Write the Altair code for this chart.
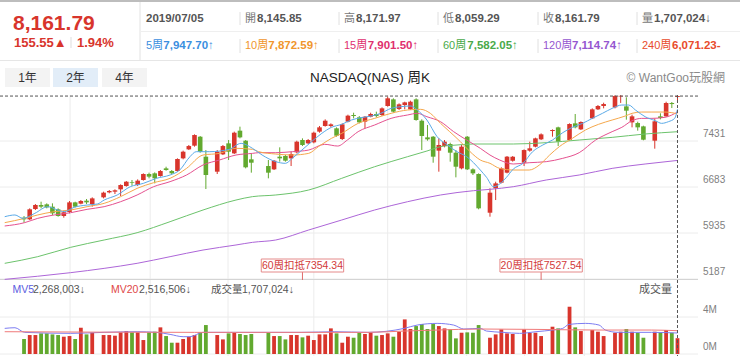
import altair as alt
import pandas as pd

FONT = "Liberation Sans, Noto Sans CJK TC, sans-serif"
RED = "#d8352c"
GREEN = "#62a92f"

# ---------------- data ----------------
week = [0, 1, 2, 3, 4, 5, 6, 7, 8, 9, 10, 11, 12,
        14, 15, 16, 17, 18, 19, 20, 21, 22, 23, 24, 25, 26, 27, 28, 29, 30, 31, 32,
        34, 35, 36, 37, 38, 39, 40,
        43, 44, 45, 46, 47, 48, 49, 50, 51, 52, 53, 54, 55, 56, 57, 58, 59, 60, 61,
        62, 63, 64, 65, 66, 67, 68, 69, 70, 71, 72, 73, 74, 75, 76, 77, 78, 79, 80,
        82, 83, 84, 85, 86,
        88, 89, 90, 91,
        93, 94,
        96, 97, 98,
        100, 101, 102,
        104, 105, 106, 107, 108, 109,
        111, 112, 113, 114, 115]

open_p = [6184, 6157, 6325, 6390, 6401, 6363, 6320, 6211, 6276, 6433, 6412, 6461, 6406,
          6515, 6596, 6607, 6645, 6699, 6764, 6715, 6797, 6894, 6905, 6862, 6986, 6943, 6943, 7149, 7295, 7355, 7501, 7176,
          6932, 7214, 7393, 7230, 7599, 7436, 7133,
          7024, 6970, 7176, 7187, 7149, 7246, 7447, 7393, 7409, 7583, 7675, 7675, 7637, 7463, 7745, 7854, 7816, 7745, 7826,
          7870, 7854, 8000, 8108, 7951, 8016, 7946, 8108, 7761, 7490, 7501, 7274, 7349, 7382, 7241, 6986, 7501, 6970, 6894,
          6265, 6661, 6753, 6916, 7111,
          7078, 7274, 7339, 7458,
          7593, 7653,
          7447, 7718, 7620,
          7799, 7946, 8000,
          7978, 8155, 7994, 7734, 7723, 7669,
          7436, 7832, 7832, 8049, 8145.85]

high_p = [6211, 6336, 6406, 6444, 6417, 6417, 6336, 6298, 6455, 6444, 6471, 6488, 6515,
          6607, 6634, 6645, 6726, 6780, 6797, 6807, 6905, 6916, 6921, 6959, 7013, 6959, 7149, 7274, 7366, 7539, 7512, 7284,
          7284, 7366, 7447, 7583, 7664, 7447, 7230,
          7122, 7122, 7328, 7203, 7257, 7436, 7474, 7463, 7583, 7675, 7783, 7718, 7653, 7718, 7859, 7891, 7837, 7837, 7891,
          7908, 7978, 8152, 8125, 8043, 8070, 8087, 8125, 7783, 7691, 7512, 7474, 7447, 7404, 7284, 7366, 7512, 6986, 6905,
          6661, 6769, 7003, 7187, 7187,
          7295, 7420, 7485, 7555,
          7620, 7664,
          7718, 7870, 7751,
          7962, 8016, 8054,
          8175, 8176, 8141, 7859, 7745, 7680,
          7794, 7881, 8070, 8065, 8171.97]

low_p = [6103, 6146, 6309, 6336, 6336, 6228, 6200, 6184, 6255, 6352, 6401, 6406, 6363,
         6498, 6580, 6569, 6536, 6688, 6704, 6699, 6786, 6824, 6742, 6851, 6948, 6894, 6932, 7133, 7284, 7339, 7241, 6650,
         6894, 7203, 7122, 7219, 7474, 6986, 6916,
         6824, 6959, 7095, 7095, 7024, 7230, 7349, 7382, 7393, 7566, 7664, 7653, 7501, 7447, 7734, 7799, 7718, 7637, 7816,
         7816, 7837, 7989, 7891, 7935, 7946, 7935, 7761, 7284, 7436, 7078, 6932, 7328, 7095, 6840, 6970, 6959, 6878, 6320,
         6200, 6471, 6742, 6905, 7095,
         7024, 7257, 7328, 7447,
         7501, 7349,
         7436, 7637, 7610,
         7788, 7935, 7962,
         7962, 8050, 7778, 7653, 7599, 7442,
         7306, 7783, 7826, 7967, 8059.29]

close_p = [6157, 6320, 6390, 6363, 6352, 6255, 6211, 6271, 6433, 6363, 6455, 6433, 6498,
           6591, 6618, 6629, 6715, 6769, 6753, 6786, 6894, 6851, 6824, 6943, 6959, 6905, 7138, 7257, 7349, 7528, 7257, 6878,
           7257, 7349, 7257, 7566, 7490, 7003, 7078,
           6916, 7111, 7149, 7111, 7219, 7420, 7366, 7447, 7566, 7653, 7761, 7702, 7517, 7702, 7843, 7837, 7734, 7826, 7870,
           7837, 7962, 8125, 7908, 8027, 8059, 8070, 7772, 7512, 7458, 7176, 7366, 7420, 7241, 7013, 7339, 6970, 6905, 6336,
           6591, 6742, 6986, 7176, 7176,
           7284, 7312, 7474, 7539,
           7610, 7420,
           7707, 7653, 7740,
           7946, 8000, 8032,
           8162, 8165, 7924, 7832, 7653, 7452,
           7751, 7805, 8049, 8032, 8161.79]

volume_m = [1.62, 2.05, 2.05, 2.23, 2.23, 2.12, 2.05, 1.87, 1.94, 1.62, 2.84, 2.12, 2.30,
            2.05, 2.05, 1.98, 2.34, 2.48, 2.34, 2.34, 1.51, 2.34, 2.41, 2.88, 1.94, 1.22, 1.22, 1.62, 1.87, 2.05, 2.34, 3.13,
            2.05, 1.58, 2.23, 2.30, 2.16, 2.05, 2.16,
            2.30, 1.94, 1.94, 1.58, 2.05, 2.05, 1.80, 1.98, 1.51, 2.12, 2.12, 2.77, 2.23, 1.22, 1.87, 1.76, 2.30, 2.16, 2.34,
            1.98, 2.05, 2.23, 1.87, 2.41, 3.74, 2.70, 3.02, 3.24, 2.70, 3.24, 3.02, 2.77, 2.66, 1.69, 2.30, 2.34, 2.30, 3.13,
            1.76, 2.12, 2.66, 2.23, 2.16,
            2.66, 2.30, 2.30, 1.94,
            2.95, 2.77,
            5.11, 2.88, 2.48,
            2.59, 2.41, 1.94,
            2.30, 2.41, 2.70, 2.41, 2.30, 1.76,
            2.41, 2.30, 2.59, 2.30, 1.707]

ma5_week = [-3.4, -1.6, -0.2, 1.9, 4.2, 5.9, 7.1, 8.8, 11.1, 12.9, 14.1, 16.4, 18.7, 21, 23.3, 25.7, 27.4, 29.2,
            30.3, 32.6, 36.1, 38.2, 40.2, 41.9, 44.3, 46, 47.2, 48.9, 50.6, 52.4, 54.1, 55.9, 57.6, 59.3, 61.1,
            62.8, 64.6, 66.3, 68.1, 69.2, 70.9, 72.7, 74.5, 76.2, 77.9, 80.3, 81.4, 82.6, 83.7, 84.9, 86.1, 87.8,
            89.5, 91.3, 93, 94.8, 96.5, 98.3, 100, 101.8, 103.5, 105.2, 106.4, 107.6, 109.3, 111.1, 112.2, 113.4,
            114.5, 115]
ma5_value = [6200, 6228, 6173, 6255, 6363, 6309, 6282, 6352, 6390, 6406, 6471, 6553, 6688, 6742, 6824, 6878, 6959, 7176,
             7257, 7257, 7295, 7393, 7312, 7203, 7095, 7068, 7149, 7284, 7420, 7555, 7653, 7702, 7772, 7810, 7837,
             7881, 7962, 7989, 8000, 7935, 7772, 7501, 7366, 7257, 7176, 6959, 6840, 6688, 6732, 6840, 6975, 7068,
             7257, 7366, 7447, 7566, 7653, 7718, 7799, 7881, 7962, 8016, 8016, 7935, 7826, 7761, 7718, 7745,
             7799, 7948]

ma10_week = [-3.4, 0.1, 2.4, 5.3, 8.2, 11.1, 14.1, 17, 19.9, 22.8, 25.7, 28.6, 31.5, 34.4, 37.3, 40.2, 41.3, 44.3,
             47.2, 50.1, 51.8, 54.1, 55.9, 58.8, 61.7, 64.6, 67.5, 69.8, 71.5, 73.3, 74.9, 76.8, 78.5, 80.3, 82,
             83.7, 86.1, 88.9, 90.7, 92.5, 94.2, 96.5, 98.8, 101.1, 103.5, 105.8, 107, 108.7, 110.5, 112.8, 115]
ma10_value = [6103, 6173, 6228, 6282, 6309, 6363, 6417, 6526, 6661, 6753, 6824, 6986, 7203, 7230, 7312, 7295, 7257, 7219,
              7203, 7230, 7339, 7474, 7555, 7718, 7799, 7881, 7935, 7946, 7881, 7718, 7583, 7420, 7257, 7122, 7068,
              6986, 6959, 6959, 7041, 7203, 7339, 7474, 7610, 7702, 7772, 7837, 7881, 7902, 7902, 7902, 7873]

ma15_week = [-3.4, 0.1, 2.4, 5.3, 8.2, 11.1, 14.1, 17, 19.9, 22.8, 25.7, 28.6, 31.5, 34.4, 37.3, 40.2, 41.3, 44.3,
             47.2, 50.1, 52.9, 55.2, 56.9, 58.8, 61.7, 64.6, 67.5, 69.2, 70.9, 73.3, 75.6, 77.9, 80.3, 82, 83.7,
             86.1, 88.9, 91.9, 94.8, 97.7, 100.6, 103.5, 105.2, 107, 108.7, 110.5, 112.8, 115]
ma15_value = [6049, 6103, 6173, 6228, 6265, 6320, 6363, 6444, 6553, 6688, 6770, 6878, 7041, 7122, 7203, 7230, 7241, 7241,
              7257, 7284, 7377, 7349, 7447, 7583, 7691, 7799, 7854, 7881, 7826, 7745, 7583, 7447, 7312, 7203, 7122,
              7057, 7078, 7095, 7149, 7241, 7447, 7583, 7653, 7761, 7799, 7799, 7816, 7902]

ma60_week = [-3.4, 2.4, 8.2, 14.1, 19.9, 25.7, 31.5, 37.3, 40.2, 44.3, 50.1, 55.9, 61.7, 67.5, 70.9, 73.3, 76.2, 79.1,
             86.1, 91.9, 97.7, 103.5, 109.3, 115]
ma60_value = [5442, 5550, 5702, 5821, 5940, 6119, 6309, 6471, 6526, 6553, 6634, 6824, 7013, 7176, 7268, 7339, 7366, 7382,
              7382, 7404, 7447, 7490, 7545, 7582]

ma120_week = [-3.4, 8.2, 14.1, 19.9, 25.7, 31.5, 37.3, 40.2, 44.3, 50.1, 55.9, 61.7, 67.5, 73.3, 79.1, 82, 86.1, 91.9,
              97.7, 103.5, 109.3, 115]
ma120_value = [5181, 5290, 5360, 5442, 5550, 5658, 5740, 5783, 5821, 5984, 6146, 6309, 6444, 6553, 6623, 6645, 6688, 6797,
               6878, 6986, 7057, 7115]

vol_ma5_week = [-3.4, -1.6, 0.1, 8.2, 14.1, 19.9, 23.3, 25.7, 28.0, 29.2, 31.5, 37.3, 43.1, 48.9, 54.7, 60.5, 66.9,
                69.2, 72.7, 75.6, 77.4, 80.3, 81.4, 84.3, 87.2, 90.1, 93.0, 94.8, 95.9, 98.8, 101.2, 102.3, 104.6,
                110.4, 115]
vol_ma5_value = [2.77, 2.84, 2.34, 2.23, 2.34, 2.41, 2.34, 2.12, 1.87, 1.87, 2.34, 2.34, 2.34, 2.34, 2.41, 2.34, 2.77,
                 3.13, 3.31, 3.13, 2.70, 2.77, 2.48, 2.34, 2.23, 2.41, 2.59, 2.77, 3.20, 3.31, 3.13, 2.59, 2.34,
                 2.34, 2.27]
vol_ma20_week = [-3.4, 30, 60.5, 66.9, 72.7, 80.3, 90.1, 101.2, 110.4, 115]
vol_ma20_value = [2.41, 2.34, 2.34, 2.48, 2.59, 2.70, 2.66, 2.59, 2.59, 2.52]

grid_week = [8.1, 22.2, 35.9, 51.0, 64.0, 77.9, 88.1, 98.6]
price_ticks = [7431, 6683, 5935, 5187]
vol_ticks = [4, 0]
vol_tick_labels = ["4M", "0M"]
deduct_week = [49, 91]
deduct_text = ["60周扣抵7354.34", "20周扣抵7527.54"]
last_close = 8161.79
last_week = 115

top_price = ["8,161.79", "155.55▲", "1.94%"]
hdr_date = "2019/07/05"
hdr_prefix = ["開", "高", "低", "收", "量"]
hdr_value = ["8,145.85", "8,171.97", "8,059.29", "8,161.79", "1,707,024↓"]
ma_prefix = ["5周", "10周", "15周", "60周", "120周", "240周"]
ma_text = ["7,947.70↑", "7,872.59↑", "7,901.50↑", "7,582.05↑", "7,114.74↑", "6,071.23-"]
ma_colors = ["#3b8fdf", "#f0962c", "#e0306e", "#4aaa4a", "#9556d0", "#e84b2c"]
tabs = ["1年", "2年", "4年"]
title = "NASDAQ(NAS) 周K"
brand = "© WantGoo玩股網"
vol_legend = ["MV5", "2,268,003↓", "MV20", "2,516,506↓", "成交量", "1,707,024↓"]

# ---------------- scales ----------------
XS = alt.Scale(domain=[-3.35, 125.12], range=[0, 740], nice=False, zero=False)
PS = alt.Scale(domain=[5187, 8179], range=[279, 95], nice=False, zero=False)
VS = alt.Scale(domain=[0, 4], range=[354, 317], nice=False, zero=False)
COL = alt.Scale(domain=["up", "down"], range=[RED, GREEN])

one = pd.DataFrame({"k": [0]})


def txt(s, x, y, size=12, color="#333", weight="normal", align="left", baseline="middle"):
    return alt.Chart(one).mark_text(text=s, fontSize=size, color=color, fontWeight=weight,
                                    align=align, baseline=baseline, font=FONT).encode(
        x=alt.value(x), y=alt.value(y))


def rect(x, x2, y, y2, fill):
    return alt.Chart(one).mark_rect(color=fill).encode(
        x=alt.value(x), x2=alt.value(x2), y=alt.value(y), y2=alt.value(y2))


def hline(x, x2, y, color, width=1):
    return alt.Chart(one).mark_rule(color=color, strokeWidth=width).encode(
        x=alt.value(x), x2=alt.value(x2), y=alt.value(y))


def vline(x, y, y2, color, width=1):
    return alt.Chart(one).mark_rule(color=color, strokeWidth=width).encode(
        x=alt.value(x), y=alt.value(y), y2=alt.value(y2))


df = pd.DataFrame({"week": week, "open": open_p, "high": high_p, "low": low_p,
                   "close": close_p, "vol": volume_m})
df["dir"] = ["up" if c >= o else "down" for o, c in zip(df["open"], df["close"])]

X = alt.X("week:Q", scale=XS, axis=None)
layers = []

# ---------------- header ----------------
layers.append(hline(0, 740, 1, "#bdbdbd", 2))
layers.append(vline(140, 2, 60, "#e2e2e2"))
layers.append(hline(141, 740, 31.5, "#efefef"))
layers.append(hline(0, 740, 60.5, "#e6e6e6"))
layers.append(txt(top_price[0], 13, 24, 21, RED, "bold"))
layers.append(txt(top_price[1], 14, 42.5, 13, RED, "bold"))
layers.append(vline(71, 37, 48, "#dddddd"))
layers.append(txt(top_price[2], 77, 42.5, 13, RED, "bold"))
col_x = [146, 245, 344, 443, 543, 642]
for sx in [240, 339, 438, 538, 637]:
    layers.append(vline(sx, 12, 25, "#e0e0e0"))
    layers.append(vline(sx, 39, 53, "#e0e0e0"))
layers.append(txt(hdr_date, col_x[0], 18.5, 11.5, "#555", "bold"))
for k in range(5):
    cx = col_x[k + 1]
    layers.append(txt(hdr_prefix[k], cx, 18.5, 11, "#777"))
    layers.append(txt(hdr_value[k], cx + 12, 18.5, 11.5, "#555", "bold"))
ma_off = [17.3, 23.3, 23.7, 24.3, 29.0, 30.0]
for k in range(6):
    cx = col_x[k]
    layers.append(txt(ma_prefix[k], cx, 46, 11, ma_colors[k]))
    layers.append(txt(ma_text[k], cx + ma_off[k], 46, 11.5, ma_colors[k], "bold"))

# tabs and title
tab_x = [(5, 50), (53, 98), (102, 147)]
tab_fill = ["#f3f3f3", "#e2edf8", "#f3f3f3"]
for (a, b), f, t in zip(tab_x, tab_fill, tabs):
    layers.append(rect(a, b, 68, 87, f))
    layers.append(txt(t, (a + b) / 2, 78, 12, "#333", align="center"))
layers.append(txt(title, 370, 78, 13.5, "#222", align="center"))
layers.append(txt(brand, 725, 78, 12, "#8a8a8a", align="right"))

# ---------------- grids ----------------
gw = pd.DataFrame({"week": grid_week})
layers.append(alt.Chart(gw).mark_rule(color="#ececec").encode(x=X, y=alt.value(95), y2=alt.value(356)))
pt = pd.DataFrame({"v": price_ticks})
layers.append(alt.Chart(pt).mark_rule(color="#ececec").encode(
    y=alt.Y("v:Q", scale=PS, axis=None), x=alt.value(0), x2=alt.value(698)))
layers.append(alt.Chart(pt).mark_text(align="left", baseline="middle", dy=-7, fontSize=10,
                                      color="#808080", font=FONT).encode(
    y=alt.Y("v:Q", scale=PS, axis=None), x=alt.value(703), text="v:N"))
layers.append(hline(0, 698, 279.5, "#d4d4d4"))
vt = pd.DataFrame({"v": vol_ticks, "t": vol_tick_labels})
layers.append(alt.Chart(vt).mark_rule(color="#ececec").encode(
    y=alt.Y("v:Q", scale=VS, axis=None), x=alt.value(0), x2=alt.value(698)))
layers.append(alt.Chart(vt).mark_text(align="left", baseline="middle", dy=-7, fontSize=10,
                                      color="#808080", font=FONT).encode(
    y=alt.Y("v:Q", scale=VS, axis=None), x=alt.value(703), text="t:N"))

# ---------------- volume ----------------
layers.append(alt.Chart(df).mark_bar(size=3.8).encode(
    x=X, y=alt.Y("vol:Q", scale=VS, axis=None), y2=alt.datum(0),
    color=alt.Color("dir:N", scale=COL, legend=None)))
for wk, vv, c in [(vol_ma5_week, vol_ma5_value, "#7d7df2"), (vol_ma20_week, vol_ma20_value, "#f07a7a")]:
    d = pd.DataFrame({"week": wk, "v": vv})
    layers.append(alt.Chart(d).mark_line(color=c, strokeWidth=1, interpolate="monotone").encode(
        x=X, y=alt.Y("v:Q", scale=VS, axis=None)))
layers.append(txt(vol_legend[0], 12.5, 290, 10.5, "#5c5ce0"))
layers.append(txt(vol_legend[1], 33, 290, 10.5, "#555"))
layers.append(txt(vol_legend[2], 111, 290, 10.5, "#e04646"))
layers.append(txt(vol_legend[3], 139, 290, 10.5, "#555"))
layers.append(txt(vol_legend[4], 211, 290, 10.5, "#555"))
layers.append(txt(vol_legend[5], 242, 290, 10.5, "#555"))
layers.append(txt("成交量", 672, 290, 11, "#555", align="right"))

# ---------------- candles ----------------
layers.append(alt.Chart(df).mark_rule(strokeWidth=1).encode(
    x=X, y=alt.Y("low:Q", scale=PS, axis=None), y2="high:Q",
    color=alt.Color("dir:N", scale=COL, legend=None)))
layers.append(alt.Chart(df).mark_bar(size=4.6).encode(
    x=X, y=alt.Y("open:Q", scale=PS, axis=None), y2="close:Q",
    color=alt.Color("dir:N", scale=COL, legend=None)))

# ---------------- moving averages ----------------
for wk, vv, c in [(ma120_week, ma120_value, "#ad66d8"), (ma60_week, ma60_value, "#6cc36c"),
                  (ma15_week, ma15_value, "#e5518f"), (ma10_week, ma10_value, "#f5a84c"),
                  (ma5_week, ma5_value, "#5aaae8")]:
    d = pd.DataFrame({"week": wk, "v": vv})
    layers.append(alt.Chart(d).mark_line(color=c, strokeWidth=1, interpolate="monotone").encode(
        x=X, y=alt.Y("v:Q", scale=PS, axis=None)))

# ---------------- deduction markers ----------------
dd = pd.DataFrame({"week": deduct_week, "label": deduct_text})
layers.append(alt.Chart(dd).mark_rule(color="#e06a6a").encode(x=X, y=alt.value(272), y2=alt.value(280)))
layers.append(alt.Chart(dd).transform_calculate(a="datum.week - 7.25", b="datum.week + 7.25").mark_rect(
    fill="white", stroke="#e58a8a", strokeWidth=1).encode(
    x=alt.X("a:Q", scale=XS, axis=None), x2="b:Q", y=alt.value(259), y2=alt.value(272)))
layers.append(alt.Chart(dd).mark_text(fontSize=10.5, color="#d23a3a", font=FONT, baseline="middle").encode(
    x=X, y=alt.value(265.7), text="label:N"))

# ---------------- crosshair ----------------
lc = pd.DataFrame({"v": [last_close], "week": [last_week]})
layers.append(alt.Chart(lc).mark_rule(color="#555", strokeDash=[3, 2]).encode(
    y=alt.Y("v:Q", scale=PS, axis=None), x=alt.value(0), x2=alt.value(698)))
layers.append(alt.Chart(lc).mark_rule(color="#555", strokeDash=[3, 2]).encode(
    x=X, y=alt.value(95), y2=alt.value(356)))

chart = alt.layer(*layers).resolve_scale(y="independent").properties(
    width=740, height=356, padding=0,
    autosize=alt.AutoSizeParams(type="none"),
    background="white",
).configure_view(strokeWidth=0)

chart.save("out.html", embed_options={"renderer": "svg", "actions": False})
